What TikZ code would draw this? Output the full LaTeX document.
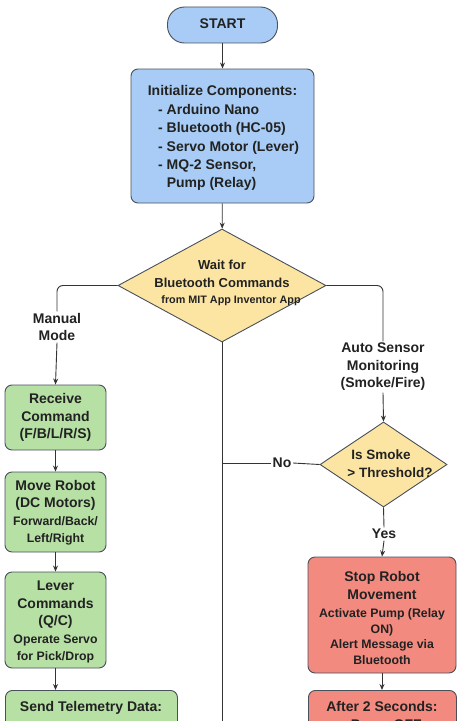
\documentclass[tikz,border=0pt]{standalone}
\usepackage{fontspec}
\setmainfont{Liberation Sans}
\usetikzlibrary{shapes.geometric,arrows.meta}
\definecolor{bluefill}{RGB}{168,204,245}
\definecolor{greenfill}{RGB}{183,224,165}
\definecolor{yellowfill}{RGB}{252,229,162}
\definecolor{redfill}{RGB}{242,138,127}
\definecolor{edge}{RGB}{72,80,92}
\definecolor{ink}{RGB}{34,34,34}
\definecolor{wire}{RGB}{52,52,52}
\tikzset{
  box/.style={draw=edge, line width=0.9pt, rounded corners=7pt, inner sep=0pt},
  dia/.style={draw=edge, line width=0.9pt, diamond, inner sep=0pt},
  big/.style={font=\fontsize{14}{17.5}\selectfont\bfseries, text=ink, align=center, inner sep=0pt},
  smalltxt/.style={font=\fontsize{12.3}{15.7}\selectfont\bfseries, text=ink, align=center, inner sep=0pt},
  lbl/.style={font=\fontsize{14}{17.5}\selectfont\bfseries, text=ink, align=center, inner sep=1.5pt, fill=white},
  conn/.style={draw=wire, line width=0.9pt},
  arr/.style={conn, -{Stealth[length=6pt,width=5pt]}},
}
\newcommand{\sm}{\fontsize{12.3}{16.5}\selectfont}
\begin{document}
\begin{tikzpicture}[x=1pt,y=-1pt]
\useasboundingbox (0,0) rectangle (457,725);
\fill[white] (0,0) rectangle (457,725);
\clip (0,0) rectangle (457,720);

% START
\node[box, fill=bluefill, rounded corners=17pt, minimum width=110pt, minimum height=36pt] (start) at (222.5,25) {};
\node[big] (starttxt) at (222.5,24) {START};

% Init
\node[box, fill=bluefill, minimum width=183pt, minimum height=134pt] (init) at (222.5,136) {};
\node[big] (inittitle) at (222.5,92) {Initialize Components:};
\node[big, align=left, anchor=west, font=\fontsize{14}{18.4}\selectfont\bfseries] (initlist) at (158,147.5) {- Arduino Nano\\- Bluetooth (HC-05)\\- Servo Motor (Lever)\\- MQ-2 Sensor,\\\hphantom{- }Pump (Relay)};

% Wait diamond
\node[dia, fill=yellowfill, minimum width=208pt, minimum height=113pt] (wait) at (222,285.5) {};
\node[big, font=\fontsize{13}{18}\selectfont\bfseries] (wait1) at (222,274) {Wait for\\Bluetooth Commands};
\node[big, font=\fontsize{10.8}{13}\selectfont\bfseries] (wait2) at (231,301) {from MIT App Inventor App};

% Labels
\node[lbl] (manual) at (57,327) {Manual\\Mode};
\node[lbl] (auto) at (383,367) {Auto Sensor\\Monitoring\\(Smoke/Fire)};

% Left column
\node[box, fill=greenfill, minimum width=101pt, minimum height=65pt] (recv) at (55.5,417.5) {};
\node[big] (recvtxt) at (55.5,417.5) {Receive\\Command\\(F/B/L/R/S)};
\node[box, fill=greenfill, minimum width=101pt, minimum height=80pt] (move) at (55.5,512) {};
\node[big] (movetxt) at (55.5,512.5) {Move Robot\\(DC Motors)\\\sm Forward/Back/\\\sm Left/Right};
\node[box, fill=greenfill, minimum width=101pt, minimum height=96pt] (lever) at (55.5,620) {};
\node[big] (levertxt) at (55.5,622) {Lever\\Commands\\(Q/C)\\\sm Operate Servo\\\sm for Pick/Drop};
\node[box, fill=greenfill, minimum width=172pt, minimum height=70pt, anchor=north west] (send) at (5,690) {};
\node[big] (sendtxt) at (91,708) {Send Telemetry Data:};

% Smoke diamond
\node[dia, fill=yellowfill, minimum width=127pt, minimum height=85pt] (smoke) at (383.5,464.5) {};
\node[big, font=\fontsize{13.5}{17}\selectfont\bfseries] (smoke1) at (381,455) {Is Smoke};
\node[big, font=\fontsize{13.5}{17}\selectfont\bfseries] (smoke2) at (390,473) {> Threshold?};
\node[lbl] (no) at (282,463) {No};
\node[lbl] (yes) at (384,534) {Yes};
\coordinate (join) at (222,463);
\coordinate (bottom) at (222,740);

% Right column
\node[box, fill=redfill, minimum width=148pt, minimum height=116pt] (stop) at (382,615) {};
\node[big] (stoptxt) at (382,585.5) {Stop Robot\\Movement};
\node[smalltxt] (stoptxt2) at (382,636.5) {Activate Pump (Relay\\ON)\\Alert Message via\\Bluetooth};
\node[box, fill=redfill, minimum width=148pt, minimum height=70pt, anchor=north west] (after) at (308,690) {};
\node[big] (aftertxt) at (382,717) {After 2 Seconds:\\- Pump OFF};

% Connectors
\draw[arr] (start) -- (init);
\draw[arr] (init) -- (wait);
\draw[conn, rounded corners=6pt] (wait.west) -| (manual.north);
\draw[arr] (manual.south) -- (recv.north);
\draw[conn, rounded corners=6pt] (wait.east) -| (auto.north);
\draw[arr] (auto.south) -- (smoke.north);
\draw[arr] (recv) -- (move);
\draw[arr] (move) -- (lever);
\draw[arr] (lever.south) -- (send.north -| lever.south);
\draw[conn] (wait.south) -- (bottom);
\draw[conn] (smoke.west) -- (no.east);
\draw[conn] (no.west) -- (join);
\draw[conn] (smoke.south) -- (yes.north);
\draw[arr] (yes.south) -- (stop.north);
\draw[arr] (stop.south) -- (after.north -| stop.south);
\end{tikzpicture}
\end{document}
